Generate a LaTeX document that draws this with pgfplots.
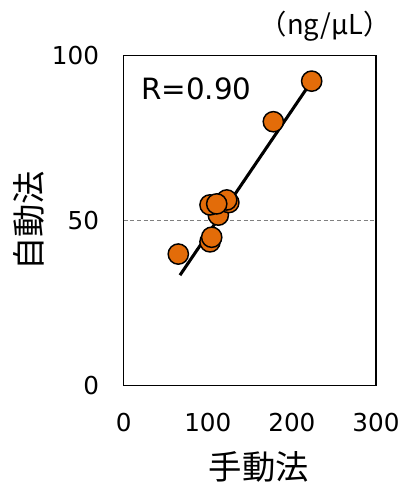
\documentclass[border=0pt]{standalone}
\usepackage{fontspec}
\setmainfont{DejaVu Sans}
\newfontfamily\jp{Noto Sans CJK JP}
\usepackage{pgfplots}
\pgfplotsset{compat=1.18}
\definecolor{orng}{HTML}{E36C09}
\begin{document}
\begin{tikzpicture}
\useasboundingbox (-92.8pt,-73.7pt) rectangle (208.7pt,289.3pt);
\begin{axis}[
  at={(0,0)}, anchor=south west,
  scale only axis, width=189.2pt, height=247.5pt,
  xmin=0, xmax=300, ymin=0, ymax=100,
  xtick={0,100,200,300}, ytick={0,50,100},
  major tick length=0pt,
  axis line style={line width=0.9pt},
  /pgf/number format/assume math mode=true,
  tick label style={font=\fontsize{18.5}{20}\selectfont},
  yticklabel style={xshift=-15pt},
  xticklabel style={yshift=-17pt},
  xlabel={\jp 手動法},
  ylabel={\jp 自動法},
  xlabel style={font=\fontsize{25}{27}\selectfont, at={(axis description cs:0.535,0)}, anchor=center, yshift=-61pt},
  ylabel style={font=\fontsize{25}{27}\selectfont, at={(axis description cs:0,0.5)}, anchor=center, rotate=0, yshift=71.5pt},
  clip=false,
]
\addplot[gray, line width=0.6pt, dash pattern=on 3pt off 2pt] coordinates {(0,50) (300,50)};
\addplot[only marks, mark=*, mark size=7.6pt, mark options={fill=orng, draw=black, line width=1.1pt}] coordinates {
(223.5,92.3) (177.9,80.0) (64.9,39.9) (102.6,43.6) (104.6,45.0) (112.5,51.7) (125,55.5) (122.5,56.3) (102.6,54.8) (110.6,55.1)
};
\addplot[black, line width=2.3pt] coordinates {(66.9,33.5) (223.0,92.1)};
\node[anchor=west, font=\fontsize{22}{24}\selectfont] at (axis cs:15,89.9) {R=0.90};
\node[anchor=east, font=\jp\fontsize{20.5}{22}\selectfont] at (axis cs:323,108.8) {（ng/μL）};
\end{axis}
\end{tikzpicture}
\end{document}
